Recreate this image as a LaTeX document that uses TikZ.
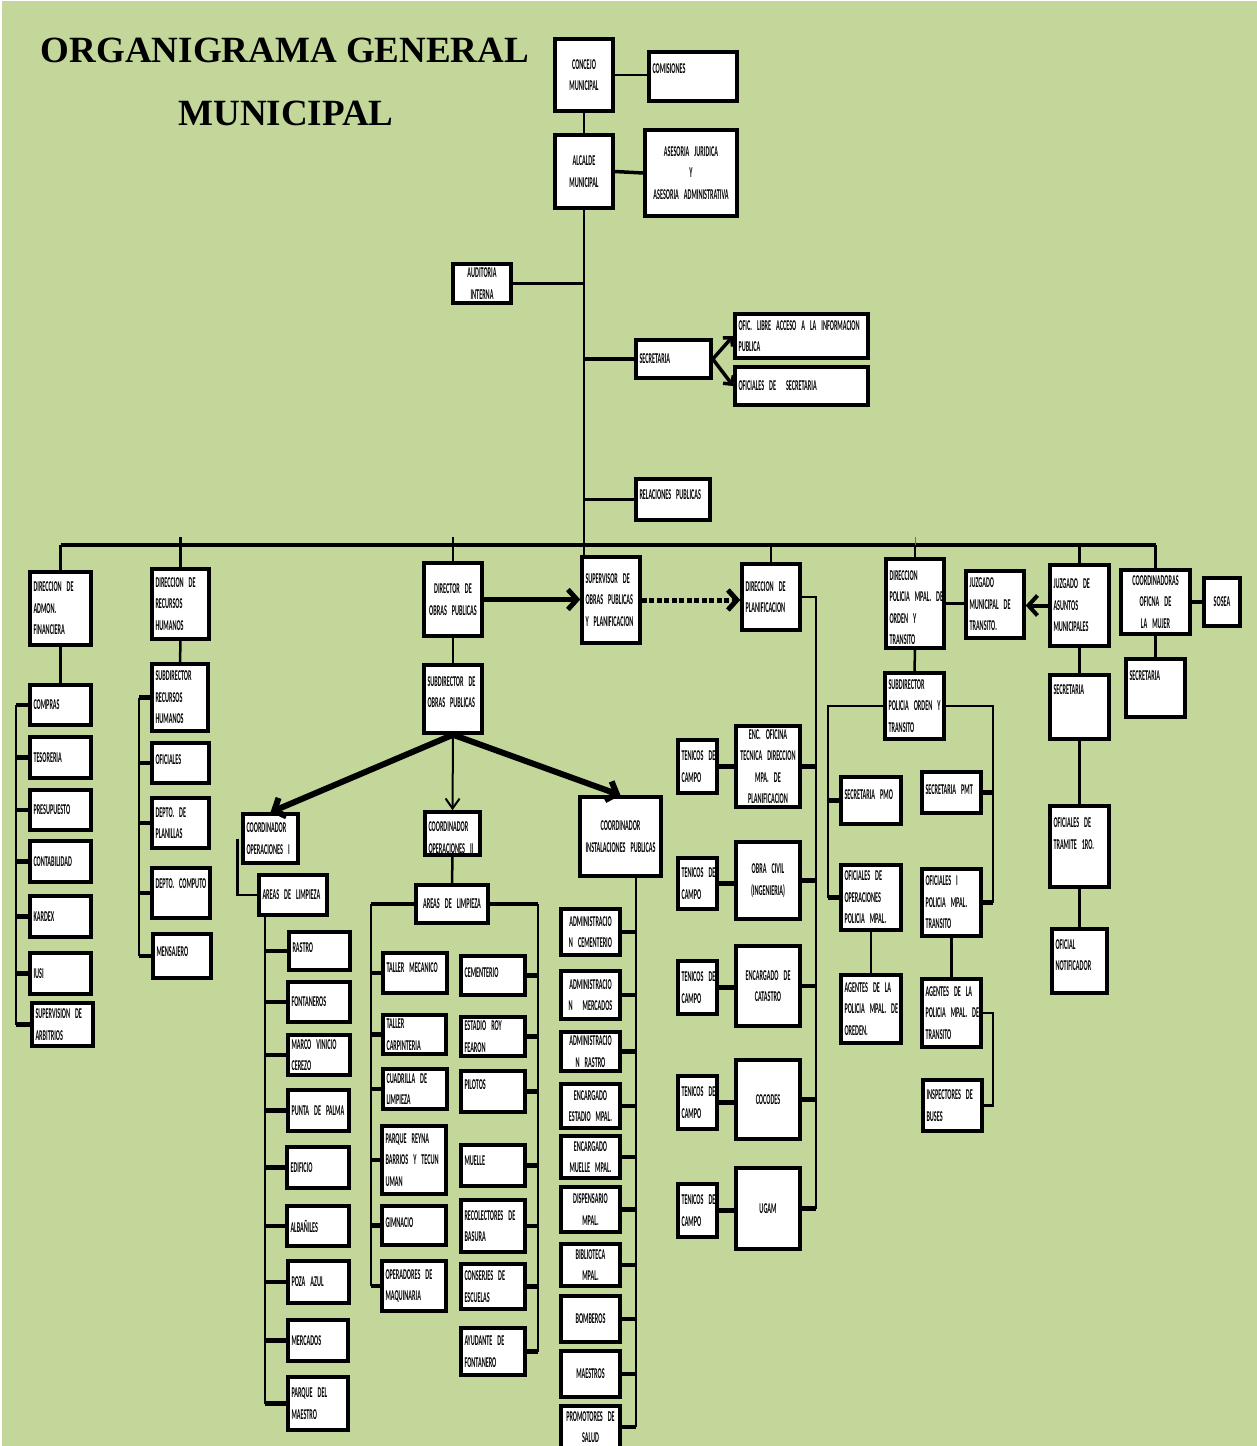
\documentclass[tikz,border=0pt]{standalone}
\usepackage{fontspec}
\usetikzlibrary{arrows.meta}
\newfontfamily\boxfont[FakeStretch=0.41]{Carlito}
\newfontfamily\titlefont{Liberation Serif}
\newcommand{\boxtext}{\boxfont\bfseries\fontsize{15}{21.5}\selectfont\fontdimen2\font=1.8pt\spaceskip 1.8pt plus 0.5pt\relax\xspaceskip 1.8pt\relax\hyphenpenalty 10000\relax}
\newcommand{\lift}[1]{\rule[-#1pt]{0pt}{#1pt}}
\definecolor{fondo}{RGB}{196,215,155}
\definecolor{guia}{RGB}{68,114,196}
\tikzstyle{box}=[draw, fill=white, line width=3.5pt, inner xsep=3.5pt, inner ysep=0pt, align=left, font=\boxtext]
\tikzstyle{cbox}=[box, align=center]
\tikzstyle{link}=[line width=2.5pt]
\tikzstyle{tick}=[line width=4.5pt]
\tikzstyle{bus}=[line width=4.5pt]
\tikzstyle{chevron}=[-{Straight Barb[length=6pt,width=13pt]}]
\tikzstyle{bigchevron}=[-{Straight Barb[length=9pt,width=20pt]}]
\tikzstyle{title}=[font=\titlefont\bfseries\fontsize{37}{40}\selectfont, anchor=base]

\begin{document}
\begin{tikzpicture}[x=1pt, y=-1pt]
\useasboundingbox (0,0) rectangle (1257,1446);
\clip (0,0) rectangle (1257,1446);
\fill[white] (0,0) rectangle (1257,1446);
\fill[fondo] (2,1) rectangle (1257,1446);

\node[title] (titulo) at (285,62) {ORGANIGRAMA GENERAL};
\node[title] (subtitulo) at (286,125) {MUNICIPAL};

\node[cbox, text width=51, minimum height=72] (concejo) at (584,75) {CONCEJO\\MUNICIPAL};
\node[box, text width=81, minimum height=49] (comisiones) at (693,76.5) {COMISIONES\lift{16}};
\node[cbox, text width=51, minimum height=73] (alcalde) at (584,171.5) {ALCALDE\\MUNICIPAL};
\node[cbox, text width=85, minimum height=86] (asesoria) at (691,173) {ASESORIA JURIDICA\\Y\\ASESORIA ADMINISTRATIVA};
\node[cbox, text width=51, minimum height=39] (auditoria) at (482,283.5) {AUDITORIA\\INTERNA};
\node[box, text width=68, minimum height=38] (secretaria) at (673.5,359) {SECRETARIA};
\node[box, text width=126, minimum height=44] (libreacceso) at (801.5,336) {OFIC. LIBRE ACCESO A LA INFORMACION\\PUBLICA};
\node[box, text width=126, minimum height=38] (oficialessec) at (801.5,386) {OFICIALES DE \ SECRETARIA};
\node[box, text width=67, minimum height=41] (relaciones) at (673,499.5) {RELACIONES~PUBLICAS\lift{10}};

\node[box, text width=54, minimum height=73] (finanzas) at (60.5,608.5) {DIRECCION DE\\ADMON.\\FINANCIERA};
\node[box, text width=50, minimum height=70] (rrhh) at (180.5,604) {DIRECCION DE\\RECURSOS\\HUMANOS};
\node[cbox, text width=51, minimum height=73] (obras) at (453,599.5) {DIRECTOR DE\\OBRAS~PUBLICAS};
\node[box, text width=51, minimum height=86] (supervisor) at (611,600) {SUPERVISOR DE\\OBRAS~PUBLICAS\\Y~PLANIFICACION};
\node[box, text width=51, minimum height=66] (planif) at (771,597) {DIRECCION DE\\PLANIFICACION};
\node[box, text width=51, minimum height=89] (policia) at (915,603.5) {\rule{0pt}{18pt}DIRECCION\\POLICIA~MPAL.~DE\\ORDEN Y\\TRANSITO};
\node[box, text width=51, minimum height=67] (juzmuni) at (995,604.5) {JUZGADO\\MUNICIPAL~DE\\TRANSITO.};
\node[box, text width=52, minimum height=81] (juzasuntos) at (1079.5,605.5) {JUZGADO DE\\ASUNTOS\\MUNICIPALES};
\node[cbox, text width=62, minimum height=64] (mujer) at (1155.5,602) {COORDINADORAS\\OFICNA DE LA MUJER};
\node[cbox, text width=29, minimum height=48] (sosea) at (1222,602) {SOSEA};

\node[box, text width=54, minimum height=40] (compras) at (60.5,705) {COMPRAS};
\node[box, text width=54, minimum height=41] (tesoreria) at (60.5,757.5) {TESORERIA};
\node[box, text width=54, minimum height=40] (presupuesto) at (60.5,810) {PRESUPUESTO};
\node[box, text width=54, minimum height=41] (contabilidad) at (60.5,861.5) {CONTABILIDAD};
\node[box, text width=54, minimum height=41] (kardex) at (60.5,916.5) {KARDEX};
\node[box, text width=54, minimum height=41] (iusi) at (60.5,973.5) {IUSI};
\node[box, text width=54, minimum height=43] (arbitrios) at (62.5,1024.5) {SUPERVISION~DE\\ARBITRIOS};

\node[box, text width=49, minimum height=67] (subrrhh) at (180,697.5) {SUBDIRECTOR\\RECURSOS\\HUMANOS};
\node[box, text width=50, minimum height=40] (oficialesrh) at (180.5,763) {OFICIALES\lift{6}};
\node[box, text width=50, minimum height=50] (planillas) at (180.5,823) {DEPTO. DE\\PLANILLAS};
\node[box, text width=51, minimum height=50] (computo) at (181,893) {DEPTO.~COMPUTO\lift{18}};
\node[box, text width=51, minimum height=44] (mensajero) at (182,956) {MENSAJERO\lift{8}};

\node[box, text width=51, minimum height=68] (subobras) at (453,699) {SUBDIRECTOR~DE\\OBRAS~PUBLICAS\lift{14}};
\node[box, text width=48, minimum height=49] (coord1) at (270.5,838.5) {COORDINADOR\\OPERACIONES~I};
\node[box, text width=61, minimum height=40] (areas1) at (293,895) {AREAS DE LIMPIEZA};
\node[box, text width=54, minimum height=38] (rastro) at (319.5,951) {RASTRO\lift{6}};
\node[box, text width=55, minimum height=40] (fontaneros) at (319,1002) {FONTANEROS};
\node[box, text width=55, minimum height=40] (cerezo) at (319,1055) {MARCO~VINICIO\\CEREZO};
\node[box, text width=54, minimum height=41] (palma) at (318.5,1110.5) {PUNTA~DE~PALMA};
\node[box, text width=55, minimum height=41] (edificio) at (318,1167.5) {EDIFICIO};
\node[box, text width=55, minimum height=40] (albaniles) at (318,1226) {ALBAÑILES};
\node[box, text width=54, minimum height=42] (pozaazul) at (318.5,1282) {POZA AZUL};
\node[box, text width=53, minimum height=41] (mercados) at (318,1340.5) {MERCADOS};
\node[box, text width=53, minimum height=53] (maestro) at (318,1403.5) {PARQUE DEL\\MAESTRO};

\node[box, text width=48, minimum height=43] (coord2) at (452.5,833.5) {\rule{0pt}{18pt}COORDINADOR\\OPERACIONES~II};
\node[cbox, text width=65, minimum height=38] (areas2) at (452,904) {AREAS DE LIMPIEZA};
\node[box, text width=57, minimum height=40] (mecanico) at (415,973) {TALLER~MECANICO\lift{10}};
\node[box, text width=56, minimum height=39] (carpinteria) at (414.5,1034.5) {TALLER\\CARPINTERIA};
\node[box, text width=57, minimum height=40] (cuadrilla) at (415,1089) {CUADRILLA DE\\LIMPIEZA};
\node[box, text width=57, minimum height=68] (reyna) at (414,1160) {PARQUE REYNA\\BARRIOS~Y~TECUN\\UMAN};
\node[box, text width=57, minimum height=39] (gimnacio) at (414,1225.5) {GIMNACIO\lift{6}};
\node[box, text width=57, minimum height=50] (operadores) at (414,1286) {OPERADORES~DE\\MAQUINARIA};
\node[box, text width=57, minimum height=39] (cementerio) at (493,975.5) {CEMENTERIO\lift{6}};
\node[box, text width=57, minimum height=39] (fearon) at (493,1036.5) {ESTADIO ROY\\FEARON};
\node[box, text width=57, minimum height=41] (pilotos) at (493,1091.5) {PILOTOS\lift{14}};
\node[box, text width=57, minimum height=41] (muelle) at (493,1165.5) {MUELLE\lift{10}};
\node[box, text width=57, minimum height=52] (recolectores) at (493,1226) {RECOLECTORES~DE\\BASURA};
\node[box, text width=57, minimum height=45] (conserjes) at (493,1286.5) {CONSERJES DE\\ESCUELAS};
\node[box, text width=57, minimum height=47] (ayudante) at (493,1351.5) {AYUDANTE DE\\FONTANERO};

\node[cbox, text width=74, minimum height=79] (inst) at (620.5,836.5) {COORDINADOR\\INSTALACIONES~PUBLICAS};
\node[cbox, text width=52, minimum height=46] (admcem) at (590.5,932) {ADMINISTRACIO\\N~CEMENTERIO};
\node[cbox, text width=52, minimum height=48] (admmer) at (590.5,995) {ADMINISTRACIO\\N~\ MERCADOS};
\node[cbox, text width=52, minimum height=39] (admras) at (590.5,1051.5) {ADMINISTRACIO\\N RASTRO};
\node[cbox, text width=52, minimum height=44] (encestadio) at (590.5,1106) {ENCARGADO\\ESTADIO~MPAL.};
\node[cbox, text width=52, minimum height=42] (encmuelle) at (590.5,1157) {ENCARGADO\\MUELLE~MPAL.};
\node[cbox, text width=52, minimum height=45] (dispensario) at (590.5,1209.5) {DISPENSARIO\\MPAL.};
\node[cbox, text width=52, minimum height=42] (biblioteca) at (590.5,1265) {BIBLIOTECA\\MPAL.};
\node[cbox, text width=52, minimum height=46] (bomberos) at (590.5,1319) {BOMBEROS};
\node[cbox, text width=52, minimum height=46] (maestros) at (590.5,1374) {MAESTROS};
\node[cbox, text width=52, minimum height=42] (promotores) at (590.5,1427) {PROMOTORES~DE\\SALUD};

\node[cbox, text width=57, minimum height=81] (ofitec) at (768,766.5) {ENC. OFICINA\\TECNICA~DIRECCION\\MPA. DE\\PLANIFICACION};
\node[cbox, text width=57, minimum height=77] (obracivil) at (768,880.5) {OBRA CIVIL\\(INGENIERIA)};
\node[cbox, text width=57, minimum height=80] (catastro) at (768,986) {ENCARGADO DE\\CATASTRO};
\node[cbox, text width=57, minimum height=79] (cocodes) at (768,1099.5) {COCODES};
\node[cbox, text width=57, minimum height=81] (ugam) at (768,1208.5) {UGAM};
\node[box, text width=32, minimum height=53] (tec1) at (697.5,766.5) {TENICOS~DE\\CAMPO};
\node[box, text width=32, minimum height=51] (tec2) at (697.5,883.5) {TENICOS~DE\\CAMPO};
\node[box, text width=32, minimum height=53] (tec3) at (697.5,987.5) {TENICOS~DE\\CAMPO};
\node[box, text width=32, minimum height=53] (tec4) at (697.5,1102.5) {TENICOS~DE\\CAMPO};
\node[box, text width=32, minimum height=53] (tec5) at (697.5,1210.5) {TENICOS~DE\\CAMPO};

\node[box, text width=52, minimum height=66] (subpol) at (914.5,706) {SUBDIRECTOR\\POLICIA~ORDEN~Y\\TRANSITO};
\node[box, text width=53, minimum height=47] (secpmo) at (871,800.5) {SECRETARIA~PMO\lift{12}};
\node[box, text width=52, minimum height=41] (secpmt) at (951.5,792.5) {SECRETARIA~PMT\lift{6}};
\node[box, text width=53, minimum height=65] (ofiope) at (871,897.5) {OFICIALES DE\\OPERACIONES\\POLICIA MPAL.};
\node[box, text width=52, minimum height=67] (ofitra) at (951.5,902.5) {OFICIALES I\\POLICIA MPAL.\\TRANSITO};
\node[box, text width=53, minimum height=68] (agorden) at (871,1009) {AGENTES~DE~LA\\POLICIA~MPAL.~DE\\OREDEN.};
\node[box, text width=52, minimum height=68] (agtra) at (951.5,1013) {AGENTES~DE~LA\\POLICIA~MPAL.~DE\\TRANSITO};
\node[box, text width=52, minimum height=51] (inspectores) at (952.5,1105.5) {INSPECTORES~DE\\BUSES};

\node[box, text width=52, minimum height=64] (secjuz) at (1079.5,707) {SECRETARIA\lift{34}};
\node[box, text width=52, minimum height=81] (tramite) at (1079.5,846.5) {OFICIALES DE\\TRAMITE 1RO.\lift{26}};
\node[box, text width=48, minimum height=64] (notificador) at (1079.5,961) {OFICIAL\\NOTIFICADOR\lift{12}};
\node[box, text width=52, minimum height=58] (secmujer) at (1155.5,688) {SECRETARIA\lift{24}};

\coordinate (bus) at (0,545);
\coordinate (bustop) at (0,537);
\coordinate (finspine) at (16,0);
\coordinate (rhspine) at (139,0);
\coordinate (a1spine) at (265,0);
\coordinate (a2left) at (371,0);
\coordinate (a2right) at (538,0);
\coordinate (instspine) at (636,0);
\coordinate (planspine) at (816,0);
\coordinate (polleft) at (828,0);
\coordinate (polright) at (993,0);

\draw[link] (concejo.south) -- (alcalde.north);
\draw[link] (concejo.east) -- (concejo.east -| comisiones.west);
\draw[link, line width=3.5pt] (alcalde.east) -- (asesoria.west);
\draw[link] (alcalde.south) -- (alcalde.south |- supervisor.north);
\draw[link, line width=3.5pt] (auditoria.east) -- (auditoria.east -| alcalde.south);
\draw[link, line width=3.5pt] (alcalde.south |- secretaria.west) -- (secretaria.west);
\draw[link, line width=3.5pt] (alcalde.south |- relaciones.west) -- (relaciones.west);
\draw[chevron, line width=3.5pt] (secretaria.east) -- (libreacceso.west);
\draw[chevron, line width=3.5pt] (secretaria.east) -- (oficialessec.west);

\draw[bus] (finanzas.north |- bus) -- (mujer.north |- bus);
\draw[link] (finanzas.north |- bus) -- (finanzas.north);
\draw[link] (rrhh.north |- bustop) -- (rrhh.north);
\draw[link] (obras.north |- bustop) -- (obras.north);
\draw[link] (planif.north |- bus) -- (planif.north);
\draw[link] (policia.north |- bus) -- (policia.north);
\draw[line width=1pt, guia] (policia.north |- bus) -- (policia.north |- bustop);
\draw[link] (juzasuntos.north |- bus) -- (juzasuntos.north);
\draw[link] (mujer.north |- bus) -- (mujer.north);

\draw[bigchevron, line width=5pt] (obras.east) -- (obras.east -| supervisor.west);
\draw[bigchevron, line width=5pt, dash pattern=on 5pt off 2.5pt] (supervisor.east) -- (supervisor.east -| planif.west);
\draw[link, line width=3.5pt] (policia.east) -- (policia.east -| juzmuni.west);
\draw[bigchevron, line width=4pt] (juzasuntos.west) -- (juzasuntos.west -| juzmuni.east);
\draw[tick] (mujer.east) -- (mujer.east -| sosea.west);

\draw[link] (finanzas.south) -- (compras.north);
\draw[link] (finspine |- compras.west) -- (finspine |- arbitrios.west);
\draw[tick] (finspine |- compras.west) -- (compras.west)
    (finspine |- tesoreria.west) -- (tesoreria.west)
    (finspine |- presupuesto.west) -- (presupuesto.west)
    (finspine |- contabilidad.west) -- (contabilidad.west)
    (finspine |- kardex.west) -- (kardex.west)
    (finspine |- iusi.west) -- (iusi.west)
    (finspine |- arbitrios.west) -- (arbitrios.west);

\draw[link] (rrhh.south) -- (subrrhh.north);
\draw[link] (rhspine |- subrrhh.west) -- (rhspine |- mensajero.west);
\draw[tick] (rhspine |- subrrhh.west) -- (subrrhh.west)
    (rhspine |- oficialesrh.west) -- (oficialesrh.west)
    (rhspine |- planillas.west) -- (planillas.west)
    (rhspine |- computo.west) -- (computo.west)
    (rhspine |- mensajero.west) -- (mensajero.west);

\draw[link] (obras.south) -- (subobras.north);
\draw[bigchevron, line width=6pt] (subobras.south) -- (coord1.north);
\draw[-{Straight Barb[length=10pt,width=14pt]}, line width=2pt] (subobras.south) -- (coord2.north);
\draw[bigchevron, line width=6pt] (subobras.south) -- (inst.north);

\draw[link] ([xshift=-4pt]coord1.west) |- (areas1.west);
\draw[link] (a1spine |- areas1.south) -- (a1spine |- maestro.west);
\draw[tick] (a1spine |- rastro.west) -- (rastro.west)
    (a1spine |- fontaneros.west) -- (fontaneros.west)
    (a1spine |- cerezo.west) -- (cerezo.west)
    (a1spine |- palma.west) -- (palma.west)
    (a1spine |- edificio.west) -- (edificio.west)
    (a1spine |- albaniles.west) -- (albaniles.west)
    (a1spine |- pozaazul.west) -- (pozaazul.west)
    (a1spine |- mercados.west) -- (mercados.west)
    (a1spine |- maestro.west) -- (maestro.west);

\draw[link] (coord2.south) -- (areas2.north);
\draw[tick] (areas2.west) -- (a2left |- areas2.west);
\draw[tick] (areas2.east) -- (a2right |- areas2.east);
\draw[link] (a2left |- areas2.west) -- (a2left |- operadores.west);
\draw[link] (a2right |- areas2.east) -- (a2right |- ayudante.east);
\draw[tick] (a2left |- mecanico.west) -- (mecanico.west)
    (a2left |- carpinteria.west) -- (carpinteria.west)
    (a2left |- cuadrilla.west) -- (cuadrilla.west)
    (a2left |- reyna.west) -- (reyna.west)
    (a2left |- gimnacio.west) -- (gimnacio.west)
    (a2left |- operadores.west) -- (operadores.west);
\draw[tick] (a2right |- cementerio.east) -- (cementerio.east)
    (a2right |- fearon.east) -- (fearon.east)
    (a2right |- pilotos.east) -- (pilotos.east)
    (a2right |- muelle.east) -- (muelle.east)
    (a2right |- recolectores.east) -- (recolectores.east)
    (a2right |- conserjes.east) -- (conserjes.east)
    (a2right |- ayudante.east) -- (ayudante.east);

\draw[link] (instspine |- inst.south) -- (instspine |- promotores.east);
\draw[tick] (instspine |- admcem.east) -- (admcem.east)
    (instspine |- admmer.east) -- (admmer.east)
    (instspine |- admras.east) -- (admras.east)
    (instspine |- encestadio.east) -- (encestadio.east)
    (instspine |- encmuelle.east) -- (encmuelle.east)
    (instspine |- dispensario.east) -- (dispensario.east)
    (instspine |- biblioteca.east) -- (biblioteca.east)
    (instspine |- bomberos.east) -- (bomberos.east)
    (instspine |- maestros.east) -- (maestros.east)
    (instspine |- promotores.east) -- (promotores.east);

\draw[link] (planif.east) -| (planspine |- ugam.east);
\draw[tick] (planspine |- ofitec.east) -- (ofitec.east)
    (planspine |- obracivil.east) -- (obracivil.east)
    (planspine |- catastro.east) -- (catastro.east)
    (planspine |- cocodes.east) -- (cocodes.east)
    (planspine |- ugam.east) -- (ugam.east);
\draw[tick] (tec1.east) -- (tec1.east -| ofitec.west)
    (tec2.east) -- (tec2.east -| obracivil.west)
    (tec3.east) -- (tec3.east -| catastro.west)
    (tec4.east) -- (tec4.east -| cocodes.west)
    (tec5.east) -- (tec5.east -| ugam.west);

\draw[link] (policia.south) -- (subpol.north);
\draw[link] (subpol.west) -| (polleft |- ofiope.west);
\draw[link] (subpol.east) -| (polright |- ofitra.east);
\draw[tick] (polleft |- secpmo.west) -- (secpmo.west)
    (polleft |- ofiope.west) -- (ofiope.west)
    (polright |- secpmt.east) -- (secpmt.east)
    (polright |- ofitra.east) -- (ofitra.east);
\draw[link] (ofiope.south) -- (agorden.north);
\draw[link] (ofitra.south) -- (agtra.north);
\draw[link] (agtra.east) -| (polright |- inspectores.east) -- (inspectores.east);

\draw[link] (juzasuntos.south) -- (secjuz.north);
\draw[link] (secjuz.south) -- (tramite.north);
\draw[link] (tramite.south) -- (notificador.north);
\draw[link] (mujer.south) -- (secmujer.north);
\end{tikzpicture}
\end{document}
